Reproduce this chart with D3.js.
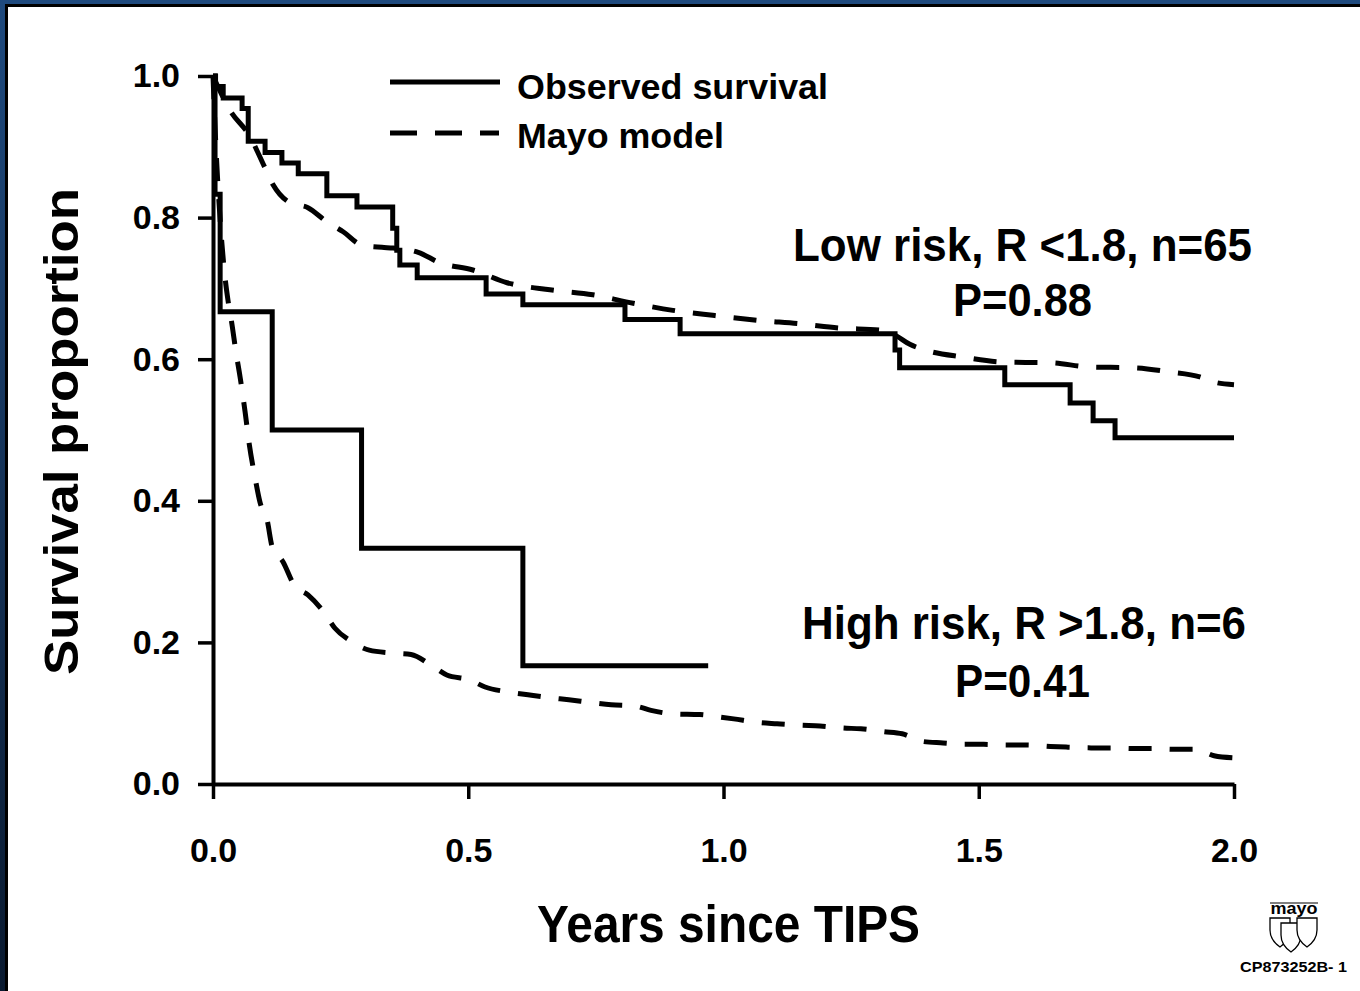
<!DOCTYPE html>
<html>
<head>
<meta charset="utf-8">
<script src="https://cdn.jsdelivr.net/npm/d3@7"></script>
<style>
  body { margin: 0; background: #fff; }
  svg { display: block; }
  text { font-family: "Liberation Sans", Arial, sans-serif; font-weight: bold; fill: #000; }
</style>
</head>
<body>
<script>
'use strict';

// observed Kaplan-Meier, low risk group (time in years, survival after the step)
let lowObsTime = [0, 0.005, 0.020, 0.057, 0.069, 0.102, 0.135, 0.167, 0.223, 0.282, 0.352, 0.360, 0.366, 0.400, 0.535, 0.607, 0.807, 0.915, 1.336, 1.345, 1.551, 1.679, 1.724, 1.767, 2.0];
let lowObsSurv = [1.0, 0.985, 0.969, 0.954, 0.908, 0.892, 0.877, 0.862, 0.831, 0.815, 0.785, 0.754, 0.733, 0.715, 0.692, 0.677, 0.656, 0.636, 0.613, 0.588, 0.564, 0.538, 0.513, 0.489, 0.489];

// observed, high risk group
let highObsTime = [0, 0.004, 0.014, 0.116, 0.291, 0.607, 0.97];
let highObsSurv = [1.0, 0.833, 0.667, 0.5, 0.333, 0.167, 0.167];

// Mayo model prediction, low risk
let lowMayoTime = [0, 0.033, 0.072, 0.102, 0.118, 0.151, 0.186, 0.223, 0.255, 0.292, 0.331, 0.353, 0.402, 0.445, 0.509, 0.576, 0.660, 0.744, 0.823, 0.901, 0.979, 1.066, 1.150, 1.228, 1.307, 1.336, 1.365, 1.395, 1.469, 1.548, 1.640, 1.718, 1.802, 1.875, 1.933, 1.959, 2.0];
let lowMayoSurv = [1.0, 0.952, 0.915, 0.870, 0.846, 0.821, 0.814, 0.794, 0.780, 0.761, 0.758, 0.757, 0.751, 0.736, 0.726, 0.708, 0.698, 0.691, 0.679, 0.669, 0.662, 0.655, 0.650, 0.644, 0.641, 0.634, 0.621, 0.613, 0.603, 0.596, 0.595, 0.589, 0.588, 0.582, 0.575, 0.568, 0.564];

// Mayo model prediction, high risk
let highMayoTime = [0, 0.006, 0.014, 0.022, 0.030, 0.037, 0.045, 0.053, 0.063, 0.071, 0.082, 0.092, 0.106, 0.116, 0.137, 0.159, 0.186, 0.217, 0.239, 0.272, 0.306, 0.351, 0.388, 0.427, 0.458, 0.503, 0.533, 0.578, 0.617, 0.658, 0.697, 0.742, 0.780, 0.827, 0.858, 0.903, 0.954, 0.989, 1.020, 1.066, 1.105, 1.150, 1.189, 1.234, 1.269, 1.314, 1.350, 1.391, 1.430, 1.471, 1.510, 1.555, 1.594, 1.640, 1.675, 1.720, 1.759, 1.804, 1.839, 1.884, 1.924, 1.961, 2.0];
let highMayoSurv = [1.0, 0.896, 0.797, 0.726, 0.680, 0.650, 0.610, 0.575, 0.525, 0.480, 0.434, 0.398, 0.373, 0.335, 0.314, 0.281, 0.267, 0.243, 0.220, 0.201, 0.189, 0.185, 0.183, 0.168, 0.154, 0.147, 0.137, 0.130, 0.126, 0.122, 0.119, 0.115, 0.112, 0.110, 0.104, 0.099, 0.098, 0.095, 0.092, 0.087, 0.085, 0.083, 0.082, 0.079, 0.078, 0.074, 0.071, 0.060, 0.058, 0.056, 0.056, 0.055, 0.055, 0.053, 0.052, 0.051, 0.051, 0.050, 0.050, 0.049, 0.049, 0.040, 0.037];

let xTicks = [0, 0.5, 1.0, 1.5, 2.0];
let yTicks = [0, 0.2, 0.4, 0.6, 0.8, 1.0];
let legendLabels = ['Observed survival', 'Mayo model'];
let groupLabels = ['Low risk, R <1.8, n=65', 'P=0.88', 'High risk, R >1.8, n=6', 'P=0.41'];

let width = 1360;
let height = 991;

let svg = d3.select('body').append('svg').attr('width', width).attr('height', height);

// navy slide frame, cropped on top and left only
let grad = svg.append('defs').append('linearGradient').attr('id', 'edge').attr('x1', 0).attr('y1', 0).attr('x2', 0).attr('y2', 1);
grad.append('stop').attr('offset', '0%').attr('stop-color', '#1f4a7e');
grad.append('stop').attr('offset', '100%').attr('stop-color', '#0a1a30');
svg.append('rect').attr('x', 0).attr('y', 0).attr('width', width).attr('height', 7).attr('fill', '#000');
svg.append('rect').attr('x', 0).attr('y', 0).attr('width', 8).attr('height', height).attr('fill', '#000');
svg.append('rect').attr('x', 0).attr('y', 0).attr('width', width).attr('height', 4).attr('fill', '#1f4a7e');
svg.append('rect').attr('x', 0).attr('y', 0).attr('width', 5).attr('height', height).attr('fill', 'url(#edge)');

let x = d3.scaleLinear().domain([0, 2]).range([213, 1234]);
let y = d3.scaleLinear().domain([0, 1]).range([784, 76]);

let xAxis = d3.axisBottom(x).tickValues(xTicks).tickSize(15).tickSizeOuter(0).tickPadding(39).tickFormat(d3.format('.1f'));
let yAxis = d3.axisLeft(y).tickValues(yTicks).tickSize(15).tickSizeOuter(0).tickPadding(18).tickFormat(d3.format('.1f'));

let gx = svg.append('g').attr('transform', 'translate(0,' + y(0) + ')').call(xAxis);
let gy = svg.append('g').attr('transform', 'translate(' + x(0) + ',0)').call(yAxis);

[gx, gy].forEach(function(g){
	g.select('.domain').attr('stroke', '#000').attr('stroke-width', 4);
	g.selectAll('.tick line').attr('stroke', '#000').attr('stroke-width', 3.5);
	g.selectAll('.tick text').attr('font-size', 34).attr('font-family', '"Liberation Sans", Arial, sans-serif').attr('font-weight', 'bold').attr('fill', '#000');
});

function zipped(ts, ss){ return ts.map(function(t, i){ return [t, ss[i]]; }); }

let stepLine = d3.line().x(function(d){ return x(d[0]); }).y(function(d){ return y(d[1]); }).curve(d3.curveStepAfter);
let smoothLine = d3.line().x(function(d){ return x(d[0]); }).y(function(d){ return y(d[1]); }).curve(d3.curveMonotoneX);

svg.append('path').attr('d', smoothLine(zipped(highMayoTime, highMayoSurv)))
	.attr('fill', 'none').attr('stroke', '#000').attr('stroke-width', 5).attr('stroke-dasharray', '23,18');
svg.append('path').attr('d', smoothLine(zipped(lowMayoTime, lowMayoSurv)))
	.attr('fill', 'none').attr('stroke', '#000').attr('stroke-width', 5).attr('stroke-dasharray', '23,18');
svg.append('path').attr('d', stepLine(zipped(highObsTime, highObsSurv)))
	.attr('fill', 'none').attr('stroke', '#000').attr('stroke-width', 5);
svg.append('path').attr('d', stepLine(zipped(lowObsTime, lowObsSurv)))
	.attr('fill', 'none').attr('stroke', '#000').attr('stroke-width', 5);

// legend
let legend = svg.append('g');
legend.append('line').attr('x1', 390).attr('x2', 500).attr('y1', 82).attr('y2', 82).attr('stroke', '#000').attr('stroke-width', 5);
legend.append('line').attr('x1', 390).attr('x2', 499).attr('y1', 133).attr('y2', 133).attr('stroke', '#000').attr('stroke-width', 5).attr('stroke-dasharray', '27,18');
legend.append('text').attr('x', 517).attr('y', 99).attr('font-size', 35).attr('textLength', 311).attr('lengthAdjust', 'spacingAndGlyphs').text(legendLabels[0]);
legend.append('text').attr('x', 517).attr('y', 148).attr('font-size', 35).attr('textLength', 207).attr('lengthAdjust', 'spacingAndGlyphs').text(legendLabels[1]);

// group annotations
let notes = [
	{t: groupLabels[0], x: 793, y: 261, w: 459},
	{t: groupLabels[1], x: 953, y: 316, w: 139},
	{t: groupLabels[2], x: 802, y: 639, w: 444},
	{t: groupLabels[3], x: 955, y: 697, w: 135}
];
svg.selectAll('text.note').data(notes).enter().append('text').attr('class', 'note')
	.attr('x', function(d){ return d.x; }).attr('y', function(d){ return d.y; })
	.attr('font-size', 46).attr('textLength', function(d){ return d.w; }).attr('lengthAdjust', 'spacingAndGlyphs')
	.text(function(d){ return d.t; });

// axis titles
svg.append('text').attr('x', 537).attr('y', 942).attr('font-size', 51).attr('textLength', 383).attr('lengthAdjust', 'spacingAndGlyphs').text('Years since TIPS');
svg.append('text').attr('transform', 'translate(78,675) rotate(-90)').attr('font-size', 48).attr('textLength', 487).attr('lengthAdjust', 'spacingAndGlyphs').text('Survival proportion');

// mayo logo
let logo = svg.append('g');
logo.append('text').attr('x', 1294).attr('y', 914).attr('text-anchor', 'middle').attr('font-size', 17).attr('font-weight', 'normal').attr('font-family', '"Liberation Serif", serif').attr('textLength', 47).attr('lengthAdjust', 'spacingAndGlyphs').text('mayo');
logo.append('line').attr('x1', 1270).attr('x2', 1318).attr('y1', 903).attr('y2', 903).attr('stroke', '#000').attr('stroke-width', 1.2);
[[1270, 918], [1281, 923], [1297, 918]].forEach(function(p){
	logo.append('path')
		.attr('d', 'M' + p[0] + ',' + p[1] + ' h20 v12 q0,10 -10,17 q-10,-7 -10,-17 z')
		.attr('fill', '#fff').attr('stroke', '#000').attr('stroke-width', 1.3);
});
logo.append('text').attr('x', 1240).attr('y', 972).attr('font-size', 15).attr('textLength', 107).attr('lengthAdjust', 'spacingAndGlyphs').text('CP873252B- 1');
</script>
</body>
</html>
